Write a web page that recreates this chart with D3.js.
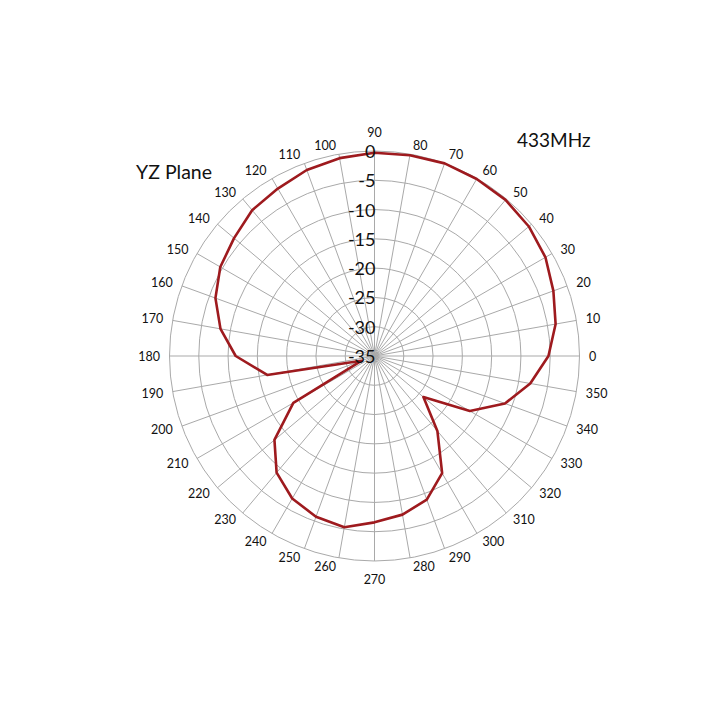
<!DOCTYPE html>
<html>
<head>
<meta charset="utf-8">
<script src="https://cdn.jsdelivr.net/npm/d3@7"></script>
<style>
  html, body { margin: 0; padding: 0; background: #fff; }
  text { font-family: Lato, "Open Sans", sans-serif; fill: #111; }
</style>
</head>
<body>
<script>
const width = 720;
const height = 720;

// Pattern data (dB) at every 10 degrees, 0..350
const angles = d3.range(0, 360, 10);
const gains = [
  -5.3, -3.6, -2.5, -1.3, -0.6, -0.2, -0.1, 0.0, -0.2, -0.3,
  -0.7, -1.2, -2.0, -2.5, -3.7, -4.6, -6.1, -8.3, -11.3, -16.4,
  -32.6, -19.0, -12.7, -9.0, -6.9, -5.8, -5.3, -6.6, -7.5, -8.9,
  -11.9, -18.3, -24.1, -16.2, -11.3, -8.0
];
const radialTicks = [0, -5, -10, -15, -20, -25, -30, -35];
const title = "433MHz";
const planeLabel = "YZ Plane";

const cx = 374.5, cy = 356, R = 205;

const r = d3.scaleLinear().domain([-35, 0]).range([0, R]);
const toRad = deg => deg * Math.PI / 180;

const svg = d3.select("body").append("svg")
  .attr("width", width)
  .attr("height", height);

const g = svg.append("g").attr("transform", `translate(${cx},${cy})`);

// rings
g.selectAll(".ring")
  .data(radialTicks.filter(v => v > -35))
  .join("circle")
    .attr("class", "ring")
    .attr("r", d => r(d))
    .attr("fill", "none")
    .attr("stroke", "#a9a9a9")
    .attr("stroke-width", 1);

// spokes
g.selectAll(".spoke")
  .data(angles)
  .join("line")
    .attr("class", "spoke")
    .attr("x1", 0).attr("y1", 0)
    .attr("x2", d => R * Math.cos(toRad(d)))
    .attr("y2", d => -R * Math.sin(toRad(d)))
    .attr("stroke", "#a9a9a9")
    .attr("stroke-width", 1);

// angle labels, placed beside the spoke ends like a spreadsheet radar chart
const vertical = d => Math.abs(Math.cos(toRad(d))) < 0.01;
g.selectAll(".alabel")
  .data(angles)
  .join("text")
    .attr("class", "alabel")
    .attr("x", d => {
      const c = Math.cos(toRad(d));
      if (vertical(d)) return 0;
      return R * c + Math.sign(c) * (1.5 + 8 * Math.abs(c));
    })
    .attr("y", d => {
      const s = Math.sin(toRad(d));
      if (vertical(d)) return -(R + 18.5) * Math.sign(s);
      return -(R + 9) * s;
    })
    .attr("text-anchor", d => vertical(d) ? "middle" : (Math.cos(toRad(d)) > 0 ? "start" : "end"))
    .attr("dominant-baseline", "central")
    .style("font-size", "12.5px")
    .text(d => d);

// pattern line
const line = d3.lineRadial()
  .angle(d => toRad(90 - d[0]))
  .radius(d => r(d[1]))
  .curve(d3.curveLinearClosed);

g.append("path")
  .datum(d3.zip(angles, gains))
  .attr("d", line)
  .attr("fill", "none")
  .attr("stroke", "#9e1a1e")
  .attr("stroke-width", 2.6)
  .attr("stroke-linejoin", "round");

// radial labels
g.selectAll(".rlabel")
  .data(radialTicks)
  .join("text")
    .attr("class", "rlabel")
    .attr("x", 1)
    .attr("y", d => -r(d))
    .attr("text-anchor", "end")
    .attr("dominant-baseline", "central")
    .style("font-size", "18px")
    .text(d => d);

// titles
svg.append("text")
  .attr("x", 517).attr("y", 147)
  .style("font-size", "19px")
  .text(title);

svg.append("text")
  .attr("x", 136).attr("y", 179)
  .style("font-size", "19.5px")
  .text(planeLabel);
</script>
</body>
</html>
